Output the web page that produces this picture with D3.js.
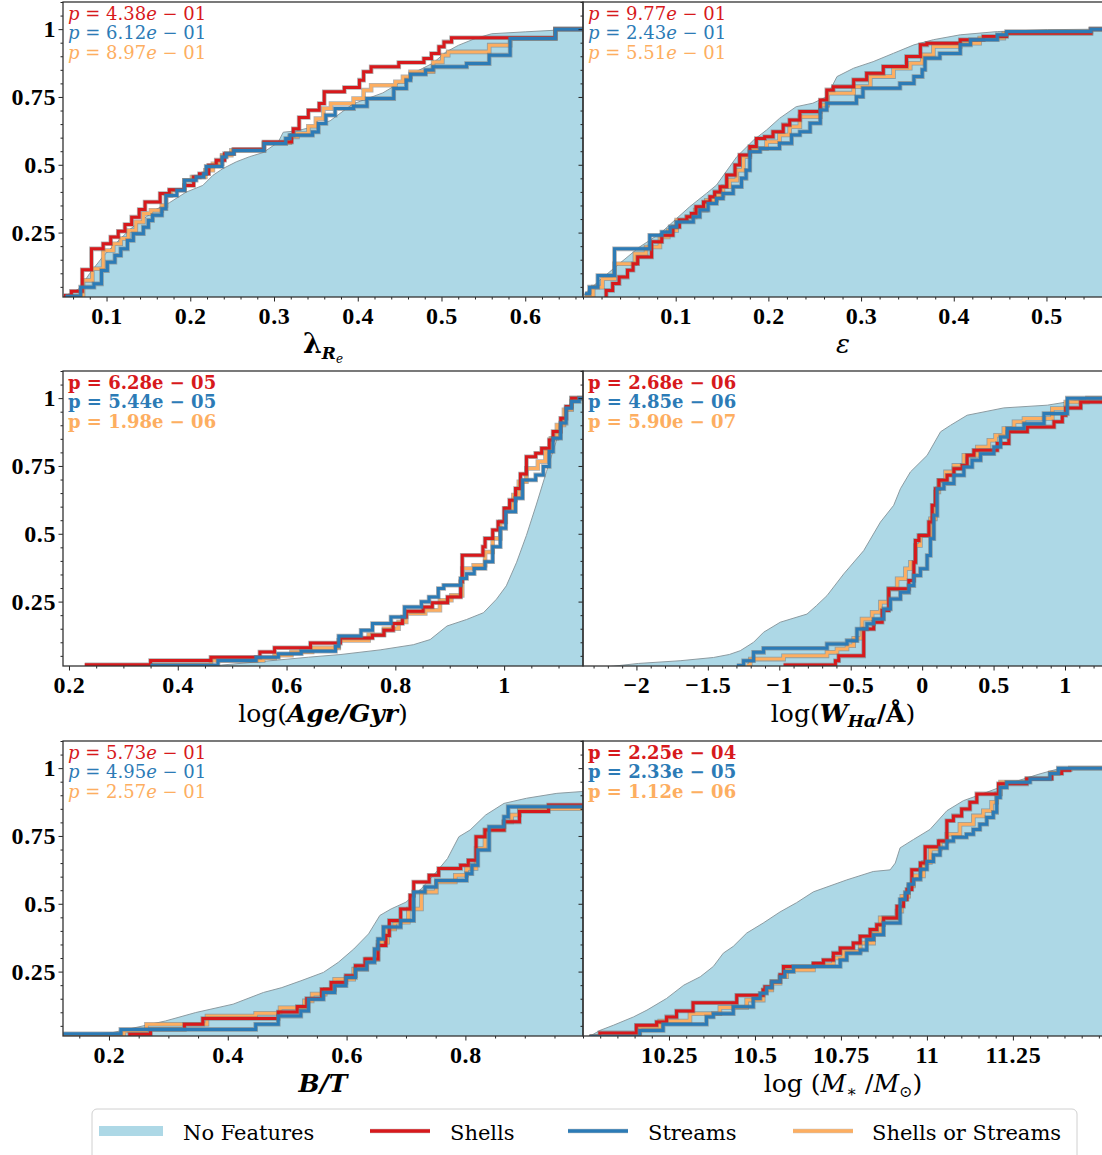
<!DOCTYPE html>
<html>
<head>
<meta charset="utf-8">
<script src="https://cdn.jsdelivr.net/npm/d3@7"></script>
<style>
  html, body { margin: 0; padding: 0; background: #ffffff; }
  svg { display: block; }
  text { white-space: pre; }
</style>
</head>
<body>
<svg id="chart" width="1102" height="1155"></svg>
<script>
// Cumulative distributions, stored as [value, cumulative fraction] step points.

// --- lambda_Re ---
const lambdaNone = [[0.049,0.016],[0.060,0.030],[0.068,0.045],[0.080,0.100],[0.096,0.163],[0.112,0.213],[0.128,0.262],[0.144,0.300],[0.160,0.337],[0.175,0.360],[0.195,0.399],[0.215,0.424],[0.227,0.461],[0.239,0.486],[0.255,0.511],[0.271,0.530],[0.287,0.545],[0.305,0.583],[0.311,0.620],[0.327,0.625],[0.343,0.637],[0.367,0.662],[0.394,0.724],[0.430,0.765],[0.449,0.800],[0.467,0.839],[0.490,0.875],[0.505,0.915],[0.520,0.940],[0.540,0.965],[0.560,0.983],[0.600,0.990],[0.636,0.996],[0.669,1.0]];
const lambdaShells = [[0.049,0.018],[0.058,0.034],[0.071,0.113],[0.082,0.190],[0.096,0.209],[0.105,0.234],[0.114,0.255],[0.122,0.280],[0.130,0.307],[0.139,0.335],[0.146,0.363],[0.164,0.394],[0.175,0.408],[0.193,0.424],[0.204,0.455],[0.211,0.467],[0.222,0.498],[0.231,0.517],[0.241,0.541],[0.252,0.557],[0.288,0.584],[0.321,0.609],[0.323,0.633],[0.330,0.674],[0.341,0.701],[0.354,0.726],[0.360,0.769],[0.384,0.785],[0.402,0.812],[0.407,0.843],[0.416,0.861],[0.449,0.877],[0.479,0.892],[0.488,0.910],[0.497,0.935],[0.503,0.953],[0.512,0.968],[0.636,1.0],[0.669,1.0]];
const lambdaStreams = [[0.051,0.015],[0.069,0.049],[0.085,0.061],[0.094,0.110],[0.101,0.141],[0.110,0.166],[0.117,0.190],[0.125,0.221],[0.132,0.246],[0.144,0.270],[0.150,0.295],[0.155,0.314],[0.166,0.338],[0.171,0.387],[0.184,0.406],[0.193,0.443],[0.207,0.455],[0.216,0.467],[0.219,0.494],[0.238,0.529],[0.243,0.541],[0.252,0.553],[0.288,0.578],[0.314,0.597],[0.319,0.609],[0.346,0.621],[0.353,0.652],[0.362,0.683],[0.373,0.707],[0.395,0.716],[0.411,0.744],[0.443,0.781],[0.458,0.812],[0.463,0.834],[0.481,0.849],[0.490,0.861],[0.530,0.873],[0.557,0.904],[0.582,0.965],[0.636,1.0],[0.669,1.0]];
const lambdaEither = [[0.051,0.015],[0.072,0.074],[0.083,0.117],[0.096,0.184],[0.108,0.209],[0.117,0.228],[0.126,0.258],[0.135,0.289],[0.144,0.320],[0.153,0.332],[0.166,0.350],[0.171,0.387],[0.177,0.406],[0.193,0.443],[0.202,0.455],[0.218,0.480],[0.227,0.504],[0.238,0.535],[0.249,0.553],[0.288,0.581],[0.319,0.603],[0.328,0.615],[0.341,0.642],[0.350,0.670],[0.359,0.707],[0.368,0.726],[0.395,0.744],[0.407,0.775],[0.416,0.793],[0.445,0.806],[0.454,0.824],[0.463,0.843],[0.490,0.879],[0.501,0.904],[0.508,0.916],[0.557,0.941],[0.582,0.966],[0.636,1.0],[0.669,1.0]];
const lambdaP = [4.38e-1, 6.12e-1, 8.97e-1];

// --- ellipticity ---
const epsNone = [[0.0,0.014],[0.002,0.025],[0.018,0.074],[0.039,0.135],[0.061,0.197],[0.083,0.246],[0.101,0.302],[0.115,0.345],[0.133,0.394],[0.144,0.425],[0.166,0.530],[0.184,0.591],[0.198,0.628],[0.212,0.671],[0.230,0.714],[0.248,0.727],[0.263,0.751],[0.274,0.825],[0.292,0.856],[0.313,0.880],[0.335,0.911],[0.357,0.942],[0.378,0.961],[0.407,0.979],[0.447,0.991],[0.501,0.998],[0.561,1.0]];
const epsShells = [[0.025,0.012],[0.025,0.037],[0.032,0.062],[0.039,0.086],[0.048,0.111],[0.054,0.135],[0.059,0.160],[0.074,0.216],[0.085,0.240],[0.097,0.271],[0.104,0.296],[0.112,0.308],[0.117,0.320],[0.122,0.345],[0.130,0.363],[0.137,0.382],[0.142,0.400],[0.148,0.419],[0.155,0.462],[0.164,0.499],[0.169,0.536],[0.180,0.567],[0.187,0.597],[0.196,0.603],[0.205,0.622],[0.216,0.647],[0.223,0.665],[0.234,0.696],[0.256,0.739],[0.263,0.776],[0.270,0.788],[0.292,0.813],[0.306,0.837],[0.324,0.862],[0.349,0.899],[0.364,0.942],[0.371,0.948],[0.407,0.961],[0.432,0.973],[0.457,0.985],[0.548,1.0],[0.561,1.0]];
const epsStreams = [[0.002,0.025],[0.007,0.049],[0.016,0.092],[0.034,0.190],[0.072,0.240],[0.085,0.252],[0.094,0.271],[0.101,0.289],[0.119,0.308],[0.126,0.333],[0.135,0.357],[0.144,0.376],[0.151,0.394],[0.162,0.419],[0.171,0.450],[0.176,0.480],[0.180,0.548],[0.191,0.560],[0.212,0.579],[0.225,0.610],[0.234,0.622],[0.245,0.653],[0.256,0.702],[0.263,0.727],[0.295,0.751],[0.302,0.782],[0.342,0.800],[0.357,0.825],[0.366,0.850],[0.369,0.893],[0.385,0.910],[0.407,0.942],[0.418,0.961],[0.447,0.979],[0.457,0.991],[0.548,1.0],[0.561,1.0]];
const epsEither = [[0.002,0.018],[0.011,0.049],[0.021,0.080],[0.034,0.135],[0.056,0.172],[0.068,0.197],[0.083,0.234],[0.092,0.258],[0.101,0.296],[0.112,0.308],[0.121,0.333],[0.133,0.369],[0.144,0.388],[0.151,0.419],[0.158,0.443],[0.166,0.480],[0.173,0.530],[0.180,0.560],[0.198,0.585],[0.212,0.610],[0.223,0.640],[0.234,0.677],[0.256,0.720],[0.264,0.764],[0.292,0.788],[0.310,0.825],[0.335,0.856],[0.353,0.874],[0.366,0.905],[0.378,0.936],[0.407,0.948],[0.428,0.967],[0.454,0.985],[0.548,1.0],[0.561,1.0]];
const epsP = [9.77e-1, 2.43e-1, 5.51e-1];

// --- log(Age/Gyr) ---
const ageNone = [[0.470,0.012],[0.480,0.016],[0.560,0.030],[0.640,0.045],[0.700,0.055],[0.772,0.072],[0.833,0.091],[0.864,0.110],[0.895,0.160],[0.931,0.184],[0.962,0.209],[0.986,0.259],[1.004,0.308],[1.023,0.395],[1.041,0.494],[1.059,0.606],[1.078,0.730],[1.090,0.805],[1.102,0.879],[1.114,0.954],[1.126,0.997],[1.138,1.0],[1.145,1.0]];
const ageShells = [[0.229,0.017],[0.350,0.033],[0.461,0.045],[0.551,0.064],[0.578,0.080],[0.644,0.097],[0.699,0.116],[0.758,0.126],[0.779,0.144],[0.796,0.169],[0.813,0.193],[0.820,0.214],[0.851,0.230],[0.868,0.246],[0.896,0.267],[0.920,0.323],[0.923,0.421],[0.961,0.452],[0.965,0.483],[0.979,0.514],[0.989,0.544],[1.000,0.594],[1.010,0.624],[1.021,0.667],[1.030,0.720],[1.041,0.784],[1.058,0.797],[1.069,0.815],[1.083,0.846],[1.090,0.877],[1.104,0.926],[1.114,0.969],[1.124,1.0],[1.145,1.0]];
const ageStreams = [[0.350,0.015],[0.474,0.033],[0.544,0.045],[0.585,0.058],[0.627,0.067],[0.690,0.085],[0.696,0.123],[0.737,0.144],[0.758,0.169],[0.792,0.193],[0.817,0.230],[0.848,0.249],[0.862,0.267],[0.879,0.298],[0.889,0.310],[0.920,0.335],[0.931,0.353],[0.945,0.372],[0.965,0.397],[0.979,0.452],[0.993,0.520],[1.003,0.581],[1.021,0.631],[1.034,0.698],[1.058,0.717],[1.072,0.748],[1.083,0.803],[1.090,0.852],[1.104,0.908],[1.114,0.963],[1.124,0.988],[1.138,1.0],[1.145,1.0]];
const ageEither = [[0.350,0.017],[0.461,0.033],[0.557,0.042],[0.578,0.052],[0.609,0.064],[0.647,0.079],[0.696,0.107],[0.751,0.128],[0.779,0.150],[0.806,0.175],[0.820,0.206],[0.855,0.218],[0.882,0.255],[0.903,0.273],[0.923,0.372],[0.944,0.384],[0.965,0.433],[0.979,0.483],[0.993,0.544],[1.003,0.594],[1.017,0.643],[1.027,0.692],[1.041,0.741],[1.062,0.766],[1.076,0.803],[1.086,0.852],[1.097,0.901],[1.110,0.957],[1.124,1.0],[1.145,1.0]];
const ageP = [6.28e-5, 5.44e-5, 1.98e-6];

// --- log(W_Halpha / A) ---
const whaNone = [[-2.200,0.010],[-2.161,0.012],[-1.986,0.022],[-1.694,0.032],[-1.460,0.044],[-1.350,0.055],[-1.273,0.069],[-1.180,0.100],[-1.110,0.137],[-0.993,0.174],[-0.806,0.204],[-0.740,0.235],[-0.666,0.272],[-0.549,0.352],[-0.409,0.438],[-0.292,0.543],[-0.199,0.605],[-0.152,0.666],[-0.082,0.728],[0.035,0.789],[0.129,0.876],[0.199,0.900],[0.315,0.937],[0.572,0.964],[0.876,0.974],[1.016,0.986],[1.150,0.998],[1.266,1.0]];
const whaShells = [[-0.970,0.016],[-0.607,0.032],[-0.584,0.050],[-0.409,0.149],[-0.339,0.174],[-0.280,0.217],[-0.234,0.297],[-0.093,0.328],[-0.058,0.395],[-0.047,0.475],[-0.023,0.494],[0.047,0.543],[0.070,0.605],[0.093,0.666],[0.117,0.697],[0.175,0.716],[0.222,0.740],[0.280,0.752],[0.315,0.789],[0.362,0.808],[0.526,0.833],[0.607,0.876],[0.736,0.894],[0.923,0.913],[0.981,0.937],[1.005,0.964],[1.110,0.986],[1.266,0.986]];
const whaStreams = [[-1.297,0.014],[-1.250,0.032],[-1.180,0.063],[-1.110,0.078],[-0.666,0.094],[-0.526,0.106],[-0.456,0.149],[-0.386,0.168],[-0.339,0.186],[-0.269,0.223],[-0.222,0.260],[-0.152,0.284],[-0.093,0.309],[-0.058,0.346],[-0.012,0.371],[0.035,0.420],[0.058,0.482],[0.082,0.568],[0.105,0.666],[0.152,0.685],[0.222,0.716],[0.292,0.746],[0.350,0.771],[0.409,0.795],[0.502,0.820],[0.549,0.857],[0.596,0.888],[0.713,0.906],[0.853,0.943],[1.016,1.0],[1.266,1.0]];
const whaEither = [[-1.227,0.014],[-1.203,0.038],[-0.970,0.050],[-0.666,0.063],[-0.596,0.075],[-0.526,0.087],[-0.479,0.115],[-0.421,0.186],[-0.350,0.211],[-0.292,0.248],[-0.234,0.297],[-0.175,0.334],[-0.117,0.371],[-0.082,0.395],[-0.047,0.457],[-0.012,0.494],[0.058,0.555],[0.093,0.654],[0.117,0.697],[0.164,0.728],[0.222,0.752],[0.292,0.789],[0.386,0.820],[0.467,0.845],[0.514,0.863],[0.572,0.888],[0.643,0.913],[0.713,0.925],[0.911,0.962],[1.005,0.986],[1.157,1.0],[1.266,1.0]];
const whaP = [2.68e-6, 4.85e-6, 5.90e-7];

// --- B/T ---
const btNone = [[0.123,0.012],[0.206,0.025],[0.295,0.068],[0.346,0.099],[0.409,0.130],[0.460,0.173],[0.491,0.191],[0.523,0.216],[0.561,0.247],[0.586,0.284],[0.612,0.333],[0.637,0.389],[0.656,0.457],[0.675,0.481],[0.700,0.506],[0.726,0.556],[0.751,0.617],[0.770,0.667],[0.789,0.747],[0.808,0.772],[0.834,0.827],[0.865,0.870],[0.903,0.889],[0.954,0.907],[0.998,0.914]];
const btShells = [[0.235,0.010],[0.235,0.019],[0.270,0.037],[0.327,0.056],[0.358,0.077],[0.485,0.101],[0.517,0.121],[0.533,0.151],[0.558,0.185],[0.574,0.210],[0.599,0.235],[0.615,0.272],[0.631,0.296],[0.653,0.346],[0.666,0.383],[0.672,0.438],[0.691,0.481],[0.707,0.531],[0.713,0.580],[0.739,0.605],[0.755,0.630],[0.792,0.642],[0.805,0.660],[0.818,0.747],[0.833,0.772],[0.865,0.802],[0.891,0.840],[0.940,0.864],[0.998,0.864]];
const btStreams = [[0.123,0.021],[0.220,0.037],[0.447,0.056],[0.485,0.086],[0.523,0.105],[0.536,0.148],[0.561,0.173],[0.580,0.198],[0.599,0.228],[0.615,0.259],[0.634,0.284],[0.647,0.333],[0.653,0.370],[0.662,0.414],[0.691,0.438],[0.713,0.543],[0.732,0.562],[0.751,0.586],[0.802,0.611],[0.811,0.642],[0.821,0.698],[0.840,0.784],[0.865,0.821],[0.872,0.858],[0.998,0.858]];
const btEither = [[0.123,0.015],[0.225,0.031],[0.263,0.056],[0.365,0.086],[0.447,0.096],[0.488,0.117],[0.529,0.142],[0.542,0.167],[0.564,0.185],[0.580,0.222],[0.612,0.259],[0.634,0.296],[0.653,0.358],[0.669,0.407],[0.681,0.432],[0.704,0.481],[0.726,0.543],[0.751,0.580],[0.783,0.605],[0.802,0.630],[0.818,0.704],[0.833,0.772],[0.865,0.802],[0.878,0.827],[0.891,0.850],[0.998,0.850]];
const btP = [5.73e-1, 4.95e-1, 2.57e-1];

// --- log(M*/Msun) ---
const massNone = [[10.000,0.008],[10.019,0.011],[10.049,0.033],[10.088,0.052],[10.147,0.083],[10.186,0.108],[10.243,0.151],[10.293,0.200],[10.341,0.231],[10.379,0.269],[10.408,0.318],[10.437,0.343],[10.476,0.392],[10.524,0.429],[10.573,0.470],[10.621,0.504],[10.670,0.544],[10.767,0.588],[10.844,0.619],[10.893,0.625],[10.908,0.650],[10.922,0.706],[10.961,0.737],[11.009,0.774],[11.058,0.843],[11.106,0.880],[11.174,0.911],[11.251,0.948],[11.329,0.979],[11.390,1.0],[11.512,1.0]];
const massShells = [[10.019,0.011],[10.049,0.024],[10.155,0.052],[10.214,0.064],[10.243,0.083],[10.272,0.105],[10.320,0.135],[10.447,0.163],[10.524,0.182],[10.529,0.194],[10.549,0.213],[10.573,0.238],[10.583,0.269],[10.670,0.281],[10.699,0.293],[10.728,0.318],[10.748,0.337],[10.786,0.355],[10.806,0.380],[10.835,0.405],[10.854,0.423],[10.874,0.448],[10.913,0.491],[10.932,0.516],[10.942,0.553],[10.956,0.625],[10.981,0.650],[10.995,0.710],[11.034,0.731],[11.058,0.806],[11.077,0.824],[11.101,0.849],[11.125,0.874],[11.145,0.905],[11.208,0.942],[11.290,0.961],[11.363,0.980],[11.392,0.992],[11.420,0.992]];
const massStreams = [[10.019,0.011],[10.165,0.033],[10.233,0.056],[10.359,0.083],[10.379,0.095],[10.437,0.120],[10.495,0.151],[10.515,0.170],[10.534,0.190],[10.549,0.213],[10.573,0.231],[10.587,0.250],[10.612,0.269],[10.748,0.293],[10.767,0.318],[10.806,0.330],[10.825,0.368],[10.845,0.386],[10.874,0.429],[10.922,0.516],[10.937,0.541],[10.947,0.572],[10.961,0.590],[10.981,0.627],[11.000,0.656],[11.019,0.680],[11.038,0.706],[11.058,0.731],[11.077,0.745],[11.115,0.756],[11.135,0.774],[11.154,0.793],[11.174,0.818],[11.193,0.837],[11.203,0.892],[11.213,0.929],[11.232,0.948],[11.300,0.960],[11.358,0.980],[11.382,1.0],[11.512,1.0]];
const massEither = [[10.019,0.011],[10.165,0.046],[10.223,0.068],[10.311,0.095],[10.398,0.118],[10.476,0.145],[10.524,0.182],[10.549,0.207],[10.573,0.231],[10.592,0.256],[10.670,0.275],[10.728,0.300],[10.757,0.324],[10.806,0.355],[10.845,0.392],[10.864,0.448],[10.913,0.473],[10.927,0.528],[10.947,0.566],[10.961,0.603],[10.990,0.652],[11.010,0.702],[11.039,0.731],[11.058,0.756],[11.096,0.793],[11.135,0.824],[11.164,0.843],[11.188,0.874],[11.203,0.905],[11.214,0.949],[11.291,0.962],[11.359,0.983],[11.388,0.995],[11.417,1.0],[11.512,1.0]];
const massP = [2.25e-4, 2.33e-5, 1.12e-6];

// Tick positions and labels
const lambdaTicks = [0.1, 0.2, 0.3, 0.4, 0.5, 0.6];
const lambdaTickLabels = ['0.1', '0.2', '0.3', '0.4', '0.5', '0.6'];
const epsTicks = [0.1, 0.2, 0.3, 0.4, 0.5];
const epsTickLabels = ['0.1', '0.2', '0.3', '0.4', '0.5'];
const ageTicks = [0.2, 0.4, 0.6, 0.8, 1.0];
const ageTickLabels = ['0.2', '0.4', '0.6', '0.8', '1'];
const whaTicks = [-2, -1.5, -1, -0.5, 0, 0.5, 1];
const whaTickLabels = ['\u22122', '\u22121.5', '\u22121', '\u22120.5', '0', '0.5', '1'];
const btTicks = [0.2, 0.4, 0.6, 0.8];
const btTickLabels = ['0.2', '0.4', '0.6', '0.8'];
const massTicks = [10.25, 10.5, 10.75, 11, 11.25];
const massTickLabels = ['10.25', '10.5', '10.75', '11', '11.25'];
const yTicks = [0.25, 0.5, 0.75, 1];
const yTickLabels = ['0.25', '0.5', '0.75', '1'];

const seriesNames = ['No Features', 'Shells', 'Streams', 'Shells or Streams'];

// ---- layout & style ----
const W = 520, H = 295;
const colX = [63, 583];
const rowY = [2, 371, 741];
const yDomain = [0.0126, 1.1];
const COLORS = { none: '#add8e6', shells: '#d7191c', streams: '#2c7bb6', either: '#fdae61' };
const SERIF = "'DejaVu Serif', serif";
const TICKFONT = "'Liberation Serif', 'Times New Roman', serif";

const svg = d3.select('#chart');

// Axis-label writers (math-style labels built from tspans)
function labelLambda(t) {
  t.style('font-size', '27px');
  t.append('tspan').style('font-weight', 'bold').text('\u03bb');
  t.append('tspan').style('font-weight', 'bold').style('font-style', 'italic').style('font-size', '17px').attr('dy', 6).text('R');
  t.append('tspan').style('font-style', 'italic').style('font-size', '12px').attr('dy', 4).text('e');
}
function labelEps(t) {
  t.style('font-size', '26px');
  t.append('tspan').style('font-style', 'italic').text('\u03b5');
}
function labelAge(t) {
  t.append('tspan').text('log(');
  t.append('tspan').style('font-weight', 'bold').style('font-style', 'italic').text('Age/Gyr');
  t.append('tspan').text(')');
}
function labelWha(t) {
  t.append('tspan').text('log(');
  t.append('tspan').style('font-weight', 'bold').style('font-style', 'italic').text('W');
  t.append('tspan').style('font-weight', 'bold').style('font-style', 'italic').style('font-size', '17px').attr('dy', 5).text('H\u03b1');
  t.append('tspan').style('font-weight', 'bold').attr('dy', -5).text('/\u00c5');
  t.append('tspan').text(')');
}
function labelBT(t) {
  t.append('tspan').style('font-weight', 'bold').style('font-style', 'italic').text('B/T');
}
function labelMass(t) {
  t.append('tspan').text('log (');
  t.append('tspan').style('font-style', 'italic').text('M');
  t.append('tspan').style('font-size', '16px').attr('dy', 5).text('\u2217');
  t.append('tspan').attr('dy', -5).text(' /');
  t.append('tspan').style('font-style', 'italic').text('M');
  t.append('tspan').style('font-size', '16px').attr('dy', 5).text('\u2299');
  t.append('tspan').attr('dy', -5).text(')');
}

const panels = [
  { col: 0, row: 0, domain: [0.048, 0.669], ticks: lambdaTicks, tickLabels: lambdaTickLabels, minor: 0.02, p: lambdaP,
    none: lambdaNone, shells: lambdaShells, streams: lambdaStreams, either: lambdaEither, label: labelLambda },
  { col: 1, row: 0, domain: [0.0, 0.561], ticks: epsTicks, tickLabels: epsTickLabels, minor: 0.02, p: epsP,
    none: epsNone, shells: epsShells, streams: epsStreams, either: epsEither, label: labelEps },
  { col: 0, row: 1, domain: [0.189, 1.145], ticks: ageTicks, tickLabels: ageTickLabels, minor: 0.05, p: ageP,
    none: ageNone, shells: ageShells, streams: ageStreams, either: ageEither, label: labelAge },
  { col: 1, row: 1, domain: [-2.374, 1.266], ticks: whaTicks, tickLabels: whaTickLabels, minor: 0.1, p: whaP,
    none: whaNone, shells: whaShells, streams: whaStreams, either: whaEither, label: labelWha },
  { col: 0, row: 2, domain: [0.1226, 0.998], ticks: btTicks, tickLabels: btTickLabels, minor: 0.05, p: btP,
    none: btNone, shells: btShells, streams: btStreams, either: btEither, label: labelBT },
  { col: 1, row: 2, domain: [10.0, 11.512], ticks: massTicks, tickLabels: massTickLabels, minor: 0.05, p: massP,
    none: massNone, shells: massShells, streams: massStreams, either: massEither, label: labelMass }
];

function minorValues(domain, step, majors) {
  const out = [];
  for (let i = Math.ceil(domain[0] / step - 1e-9); i * step <= domain[1] + 1e-9; i++) {
    const v = +(i * step).toFixed(6);
    if (!majors.some(m => Math.abs(m - v) < 1e-6)) out.push(v);
  }
  return out;
}

function pLabel(g, p, color, y) {
  const parts = p.toExponential(2).split('e');
  const expo = +parts[1];
  const ex = String(Math.abs(expo)).padStart(2, '0');
  const sign = expo < 0 ? '\u2212' : '+';
  const t = g.append('text').attr('x', 5).attr('y', y).attr('fill', color)
    .style('font-family', SERIF).style('font-size', '18px');
  if (p < 0.05) {
    t.style('font-weight', 'bold').text(`p = ${parts[0]}e ${sign} ${ex}`);
  } else {
    t.append('tspan').style('font-style', 'italic').text('p');
    t.append('tspan').text(` = ${parts[0]}`);
    t.append('tspan').style('font-style', 'italic').text('e');
    t.append('tspan').text(` ${sign} ${ex}`);
  }
}

function drawLine(g, data, color, x, y) {
  const line = d3.line().x(d => x(d[0])).y(d => y(d[1])).curve(d3.curveStepAfter);
  g.append('path').datum(data).attr('d', line).attr('fill', 'none')
    .attr('stroke', '#6f6f6f').attr('stroke-opacity', 0.55).attr('stroke-width', 4.6)
    .attr('stroke-linejoin', 'miter');
  g.append('path').datum(data).attr('d', line).attr('fill', 'none')
    .attr('stroke', color).attr('stroke-width', 3).attr('stroke-linejoin', 'miter');
}

panels.forEach((cfg, idx) => {
  const g = svg.append('g').attr('transform', `translate(${colX[cfg.col]},${rowY[cfg.row]})`);
  const x = d3.scaleLinear().domain(cfg.domain).range([0, W]);
  const y = d3.scaleLinear().domain(yDomain).range([H, 0]);

  const clipId = 'clip' + idx;
  g.append('clipPath').attr('id', clipId).append('rect').attr('width', W).attr('height', H);
  const plot = g.append('g').attr('clip-path', `url(#${clipId})`);

  // No Features: filled distribution with grey edge
  const area = d3.area().x(d => x(d[0])).y0(H + 10).y1(d => y(d[1]));
  plot.append('path').datum(cfg.none).attr('d', area).attr('fill', COLORS.none);
  const edge = d3.line().x(d => x(d[0])).y(d => y(d[1]));
  plot.append('path').datum(cfg.none).attr('d', edge).attr('fill', 'none')
    .attr('stroke', '#8c9ba1').attr('stroke-width', 1);

  // Feature samples
  drawLine(plot, cfg.either, COLORS.either, x, y);
  drawLine(plot, cfg.shells, COLORS.shells, x, y);
  drawLine(plot, cfg.streams, COLORS.streams, x, y);

  // x axis: major + minor ticks
  const xAxis = d3.axisBottom(x).tickValues(cfg.ticks).tickFormat((d, i) => cfg.tickLabels[i])
    .tickSizeInner(4.5).tickSizeOuter(0);
  const xa = g.append('g').attr('transform', `translate(0,${H})`).call(xAxis);
  xa.select('.domain').remove();
  xa.selectAll('line').attr('stroke', '#222');
  xa.selectAll('text').attr('y', 27).attr('dy', null).attr('fill', '#000')
    .style('font-family', TICKFONT).style('font-size', '24px').style('font-weight', 'bold')
    .style('letter-spacing', '0.6px');
  const xm = g.append('g').attr('transform', `translate(0,${H})`)
    .call(d3.axisBottom(x).tickValues(minorValues(cfg.domain, cfg.minor, cfg.ticks)).tickFormat('').tickSizeInner(2.5).tickSizeOuter(0));
  xm.select('.domain').remove();
  xm.selectAll('line').attr('stroke', '#222');

  // y axis: labels only on the left column
  const yAxis = d3.axisLeft(y).tickValues(yTicks).tickFormat((d, i) => cfg.col === 0 ? yTickLabels[i] : '')
    .tickSizeInner(4.5).tickSizeOuter(0);
  const ya = g.append('g').call(yAxis);
  ya.select('.domain').remove();
  ya.selectAll('line').attr('stroke', '#222');
  ya.selectAll('text').attr('x', -7).attr('fill', '#000')
    .style('font-family', TICKFONT).style('font-size', '24px').style('font-weight', 'bold')
    .style('letter-spacing', '0.6px');
  const ym = g.append('g')
    .call(d3.axisLeft(y).tickValues(minorValues(yDomain, 0.05, yTicks)).tickFormat('').tickSizeInner(2.5).tickSizeOuter(0));
  ym.select('.domain').remove();
  ym.selectAll('line').attr('stroke', '#222');

  // frame
  g.append('rect').attr('width', W).attr('height', H).attr('fill', 'none')
    .attr('stroke', '#333').attr('stroke-width', 1.3);

  // axis label
  const lab = g.append('text').attr('x', W / 2).attr('y', H + 56).attr('text-anchor', 'middle')
    .attr('fill', '#000').style('font-family', SERIF).style('font-size', '25px');
  cfg.label(lab);

  // KS p-values
  const pColors = [COLORS.shells, COLORS.streams, COLORS.either];
  cfg.p.forEach((p, i) => pLabel(g, p, pColors[i], 18 + i * 19.3));
});

// ---- legend ----
const leg = svg.append('g').attr('transform', 'translate(92,1109)');
leg.append('rect').attr('width', 985).attr('height', 60).attr('rx', 5)
  .attr('fill', '#fff').attr('stroke', '#d0d0d0').attr('stroke-width', 1);
const legendItems = [
  { name: seriesNames[0], kind: 'patch', color: COLORS.none, x: 7, tx: 91 },
  { name: seriesNames[1], kind: 'line', color: COLORS.shells, x: 278, tx: 358 },
  { name: seriesNames[2], kind: 'line', color: COLORS.streams, x: 476, tx: 556 },
  { name: seriesNames[3], kind: 'line', color: COLORS.either, x: 701, tx: 780 }
];
legendItems.forEach(it => {
  if (it.kind === 'patch') {
    leg.append('rect').attr('x', it.x).attr('y', 17).attr('width', 64).attr('height', 10)
      .attr('fill', it.color);
  } else {
    leg.append('line').attr('x1', it.x).attr('x2', it.x + 60).attr('y1', 22).attr('y2', 22)
      .attr('stroke', '#6f6f6f').attr('stroke-opacity', 0.4).attr('stroke-width', 4.6);
    leg.append('line').attr('x1', it.x).attr('x2', it.x + 60).attr('y1', 22).attr('y2', 22)
      .attr('stroke', it.color).attr('stroke-width', 3.4);
  }
  leg.append('text').attr('x', it.tx).attr('y', 31).attr('fill', '#000')
    .style('font-family', SERIF).style('font-size', '21px').text(it.name);
});
</script>
</body>
</html>
